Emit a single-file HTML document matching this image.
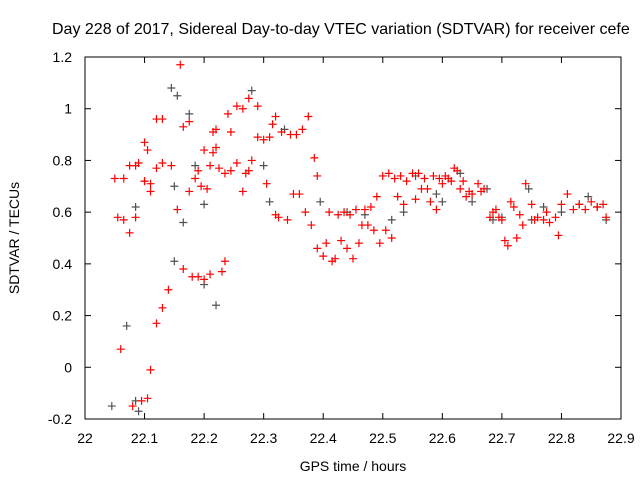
<!DOCTYPE html>
<html><head><meta charset="utf-8"><style>
body{margin:0;background:#fff}
svg{display:block;font-family:"Liberation Sans",sans-serif}
</style></head><body>
<svg id="chart" width="640" height="480">
<rect width="640" height="480" fill="#fff"/>
<text x="52" y="34" font-size="16">Day 228 of 2017, Sidereal Day-to-day VTEC variation (SDTVAR) for receiver cefe</text>
<text x="353" y="471" font-size="14" text-anchor="middle">GPS time / hours</text>
<text transform="translate(19,238) rotate(-90)" font-size="14" text-anchor="middle">SDTVAR / TECUs</text>
<g id="axes"></g>
<g id="marks"></g>
<rect x="85" y="57" width="536" height="362" fill="none" stroke="#000" stroke-width="1"/>
</svg>
<script>
const xTicks=[22,22.1,22.2,22.3,22.4,22.5,22.6,22.7,22.8,22.9];
const xTickLabels=["22","22.1","22.2","22.3","22.4","22.5","22.6","22.7","22.8","22.9"];
const yTicks=[-0.2,0,0.2,0.4,0.6,0.8,1,1.2];
const yTickLabels=["-0.2","0","0.2","0.4","0.6","0.8","1","1.2"];
const redX=[22.05,22.055,22.06,22.065,22.065,22.075,22.075,22.08,22.085,22.085,22.09,22.095,22.1,22.1,22.105,22.105,22.11,22.11,22.11,22.12,22.12,22.12,22.13,22.13,22.13,22.14,22.145,22.155,22.16,22.165,22.165,22.175,22.175,22.18,22.185,22.19,22.19,22.195,22.2,22.2,22.205,22.21,22.21,22.215,22.215,22.22,22.22,22.225,22.23,22.235,22.235,22.24,22.245,22.245,22.255,22.255,22.265,22.265,22.27,22.275,22.275,22.28,22.29,22.29,22.3,22.305,22.31,22.315,22.32,22.32,22.325,22.33,22.34,22.345,22.35,22.355,22.36,22.365,22.37,22.375,22.38,22.385,22.39,22.39,22.4,22.405,22.41,22.415,22.42,22.425,22.43,22.435,22.44,22.445,22.45,22.455,22.46,22.465,22.47,22.475,22.48,22.485,22.49,22.495,22.5,22.505,22.51,22.515,22.52,22.525,22.53,22.535,22.54,22.55,22.555,22.56,22.565,22.57,22.575,22.58,22.585,22.59,22.595,22.6,22.605,22.61,22.615,22.62,22.625,22.63,22.635,22.64,22.645,22.65,22.66,22.665,22.67,22.68,22.685,22.69,22.695,22.7,22.705,22.71,22.715,22.72,22.725,22.73,22.735,22.74,22.75,22.755,22.76,22.77,22.775,22.78,22.79,22.795,22.8,22.81,22.82,22.83,22.84,22.85,22.86,22.87,22.875];
const redY=[0.73,0.58,0.07,0.57,0.73,0.52,0.78,-0.15,0.58,0.78,0.79,-0.13,0.87,0.72,-0.12,0.84,0.71,0.68,-0.01,0.17,0.77,0.96,0.96,0.23,0.79,0.30,0.78,0.61,1.17,0.93,0.38,0.95,0.68,0.35,0.73,0.76,0.35,0.70,0.84,0.34,0.69,0.78,0.36,0.83,0.91,0.92,0.85,0.77,0.37,0.75,0.41,0.98,0.91,0.76,1.01,0.79,1.0,0.68,0.75,1.04,0.76,0.80,1.01,0.89,0.88,0.71,0.89,0.94,0.97,0.59,0.58,0.91,0.57,0.90,0.67,0.90,0.67,0.92,0.60,0.97,0.55,0.81,0.46,0.74,0.43,0.48,0.60,0.41,0.42,0.59,0.49,0.60,0.46,0.59,0.42,0.61,0.48,0.55,0.61,0.55,0.62,0.53,0.66,0.48,0.74,0.53,0.75,0.50,0.73,0.66,0.74,0.63,0.72,0.75,0.65,0.75,0.69,0.73,0.69,0.64,0.74,0.61,0.73,0.71,0.74,0.73,0.72,0.77,0.76,0.69,0.72,0.66,0.68,0.67,0.71,0.68,0.69,0.58,0.60,0.61,0.58,0.57,0.49,0.47,0.64,0.62,0.50,0.59,0.55,0.71,0.63,0.57,0.58,0.57,0.60,0.56,0.58,0.51,0.63,0.67,0.61,0.63,0.61,0.64,0.62,0.63,0.58];
const grayX=[22.045,22.07,22.085,22.09,22.085,22.1,22.145,22.15,22.155,22.15,22.165,22.175,22.185,22.2,22.2,22.22,22.28,22.3,22.31,22.335,22.395,22.44,22.47,22.515,22.535,22.555,22.59,22.6,22.63,22.65,22.675,22.685,22.7,22.745,22.75,22.77,22.8,22.83,22.845,22.86,22.875];
const grayY=[-0.15,0.16,-0.13,-0.17,0.62,0.72,1.08,0.41,1.05,0.70,0.56,0.98,0.78,0.63,0.32,0.24,1.07,0.78,0.64,0.92,0.64,0.60,0.59,0.57,0.60,0.74,0.67,0.64,0.75,0.64,0.69,0.57,0.58,0.69,0.57,0.62,0.60,0.63,0.66,0.62,0.57];

const X0=85,X1=621,Y0=419,Y1=57;
function xs(v){return X0+(v-22)/(22.9-22)*(X1-X0);}
function ys(v){return Y0-(v+0.2)/(1.4)*(Y0-Y1);}
const NS="http://www.w3.org/2000/svg";
const axes=document.getElementById('axes'),marks=document.getElementById('marks');
function mk(tag,attrs,parent){const e=document.createElementNS(NS,tag);for(const k in attrs)e.setAttribute(k,attrs[k]);parent.appendChild(e);return e;}
xTicks.forEach((t,i)=>{
  const x=xs(t);
  const a=mk('line',{x1:x,x2:x,y1:Y0,y2:Y0-6,stroke:'#000'},axes);
  
  
  const b=mk('line',{x1:x,x2:x,y1:Y1,y2:Y1+6,stroke:'#000'},axes);
  
  
  const l=mk('text',{x:x,y:443,'font-size':14,'text-anchor':'middle'},axes);
  l.textContent=xTickLabels[i];
  
  
});
yTicks.forEach((t,i)=>{
  const y=ys(t);
  const a=mk('line',{x1:X0,x2:X0+6,y1:y,y2:y,stroke:'#000'},axes);
  
  
  const b=mk('line',{x1:X1,x2:X1-6,y1:y,y2:y,stroke:'#000'},axes);
  
  
  const l=mk('text',{x:72,y:y+5,'font-size':14,'text-anchor':'end'},axes);
  l.textContent=yTickLabels[i];
  
  
});
function plus(x,y,color,name){
  const p=mk('path',{d:`M${x-4},${y}h8M${x},${y-4}v8`,stroke:color,'stroke-width':1.2,fill:'none'},marks);
  
  
}
grayX.forEach((v,i)=>plus(xs(v),ys(grayY[i]),'#505050','gray-point'));
redX.forEach((v,i)=>plus(xs(v),ys(redY[i]),'#ff0000','red-point'));
</script>
</body></html>
